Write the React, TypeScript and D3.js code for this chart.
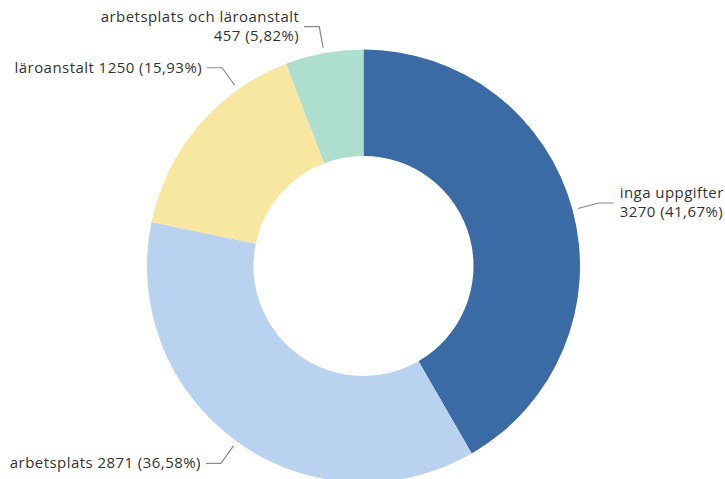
import React from "react";
import * as d3 from "d3";

const categories = ["inga uppgifter", "arbetsplats", "läroanstalt", "arbetsplats och läroanstalt"];
const values = [3270, 2871, 1250, 457];
const percentLabels = ["41,67%", "36,58%", "15,93%", "5,82%"];
const colors = ["#3A6BA5", "#B8D2EF", "#F8E7A1", "#ADDECE"];
// label line angle (degrees, clockwise from top); null = use slice mid angle
const labelAngles: (number | null)[] = [null, null, 324.5, null];

const W = 725;
const H = 479;
const cx = 363.5;
const cy = 266;
const R = 216.5;
const r0 = 110;

export default function App() {
  const pie = d3.pie<number>().sort(null).value((d) => d)(values);
  const arc = d3.arc<d3.PieArcDatum<number>>().innerRadius(r0).outerRadius(R);
  const font = "'Open Sans', sans-serif";
  const fs = 15;
  const ls = 0.45;

  return (
    <svg width={W} height={H} style={{ position: "absolute", left: 0, top: 0 }}>
      <g transform={`translate(${cx},${cy})`}>
        {pie.map((p, i) => (
          <path key={i} d={arc(p) || ""} fill={colors[i]} />
        ))}
        {pie.map((p, i) => {
          const deg = labelAngles[i] ?? ((p.startAngle + p.endAngle) / 2) * 180 / Math.PI;
          const a = (deg * Math.PI) / 180;
          const s = Math.sin(a);
          const c = -Math.cos(a);
          const p1 = [s * (R + 5.5), c * (R + 5.5)];
          const p2 = [s * (R + 27), c * (R + 27)];
          const right = s > 0;
          const p3 = [p2[0] + (right ? 15 : -15), p2[1]];
          const tx = p3[0] + (right ? 6 : -5);
          const anchor = right ? "start" : "end";
          const twoLine = i === 0 || i === 3;
          const valText = `${values[i]} (${percentLabels[i]})`;
          return (
            <g key={"l" + i}>
              <polyline
                points={[p1, p2, p3].map((q) => q.join(",")).join(" ")}
                fill="none"
                stroke="#8a8a8a"
                strokeWidth={1.2}
              />
              {twoLine ? (
                <g fontFamily={font} fontSize={fs} letterSpacing={ls} fill="#333" textAnchor={anchor}>
                  <text x={tx} y={p3[1] - 4.5}>{categories[i]}</text>
                  <text x={tx} y={p3[1] + 14}>{valText}</text>
                </g>
              ) : (
                <text x={tx} y={p3[1] + 5} textAnchor={anchor} fontFamily={font} fontSize={fs} letterSpacing={ls} fill="#333">
                  {`${categories[i]} ${valText}`}
                </text>
              )}
            </g>
          );
        })}
      </g>
    </svg>
  );
}
